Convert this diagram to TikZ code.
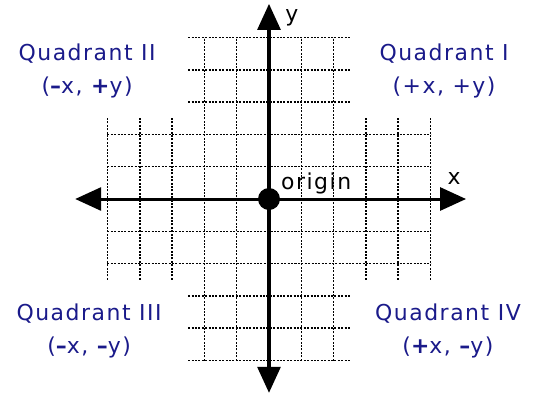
\documentclass[tikz,border=0pt]{standalone}
\usepackage{fontspec}
\setmainfont{DejaVu Sans}
\newfontfamily\quadfont{DejaVu Sans}[LetterSpace=7]
\usepackage{xcolor}
\usepackage{tikz}
\usetikzlibrary{arrows.meta,positioning}
\definecolor{quadblue}{RGB}{26,26,138}
\tikzset{
  gridline/.style={line width=1.5bp,dash pattern=on 2bp off 1.4bp,draw=black},
  axis/.style={line width=3bp,{Triangle[length=26bp,width=23bp]}-{Triangle[length=26bp,width=23bp]}},
  originpt/.style={circle,fill=black,inner sep=0pt,minimum size=22bp},
  quadlabel/.style={align=center,text=quadblue,font=\quadfont\fontsize{22}{33}\selectfont},
  axislabel/.style={font=\quadfont\fontsize{22}{26}\selectfont,inner sep=0pt}
}
\begin{document}
\begin{tikzpicture}[x=32.3bp,y=32.3bp]
  \useasboundingbox (-8.328,-6.099) rectangle (8.452,6.161);
  % dotted grid, plus-shaped
  \foreach \i in {-5,-4,-3,3,4,5}{
    \draw[gridline] (\i,-2.5) -- (\i,2.5);
    \draw[gridline] (-2.5,\i) -- (2.5,\i);
  }
  \foreach \i in {-2,-1,1,2}{
    \draw[gridline] (\i,-5) -- (\i,5);
    \draw[gridline] (-5,\i) -- (5,\i);
  }
  % axes
  \coordinate (xl) at (-6,0);
  \coordinate (xr) at (6.1,0);
  \coordinate (yb) at (0,-6);
  \coordinate (yt) at (0,6.04);
  \draw[axis] (xl) -- (xr);
  \draw[axis] (yb) -- (yt);
  \node[originpt] (o) at (0,0) {};
  \node[axislabel,anchor=base west] (olab) at (0.37,0.28) {origin};
  \node[axislabel] (xlab) at (5.73,0.62) {x};
  \node[axislabel] (ylab) at (0.71,5.6) {y};
  % quadrant labels
  \node[quadlabel] (q1) at (5.42,3.97) {Quadrant I\\(+x, +y)};
  \node[quadlabel] (q2) at (-5.63,3.97) {Quadrant II\\({\bfseries –}x, {\bfseries +}y)};
  \node[quadlabel] (q3) at (-5.57,-4.09) {Quadrant III\\({\bfseries –}x, {\bfseries –}y)};
  \node[quadlabel] (q4) at (5.54,-4.09) {Quadrant IV\\({\bfseries +}x, {\bfseries –}y)};
\end{tikzpicture}
\end{document}
